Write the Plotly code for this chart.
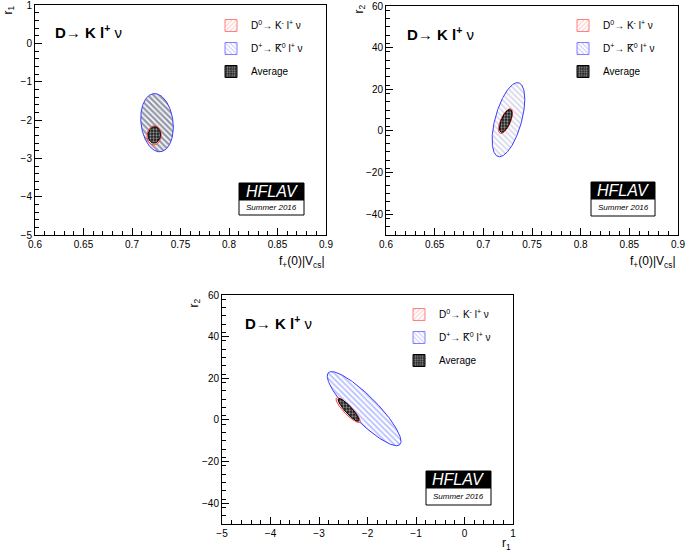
import numpy as np
import plotly.graph_objects as go

W, H = 685, 553

# ---- data ----
series_names = ["D<sup>0</sup>→ K<sup>-</sup> l<sup>+</sup> ν",
                "D<sup>+</sup>→ K\u0305<sup>0</sup> l<sup>+</sup> ν",
                "Average"]
f_center = [0.7228, 0.7258, 0.7230]
r1_center = [-2.40, -2.07, -2.39]
r2_center = [4.7, 5.4, 4.8]
f_half = [0.0073, 0.0168, 0.0064]
r1_half = [0.25, 0.76, 0.215]
r2_half = [6.0, 17.8, 5.5]
rho_f_r1 = [0.05, -0.15, 0.05]
rho_f_r2 = [0.65, 0.55, 0.65]
rho_r1_r2 = [-0.88, -0.88, -0.90]

f_ticks = [0.6, 0.65, 0.7, 0.75, 0.8, 0.85, 0.9]
r1_ticks = [-5, -4, -3, -2, -1, 0, 1]
r2_ticks = [-40, -20, 0, 20, 40, 60]


def X(px):
    return px / W


def Y(py):
    return 1 - py / H


def ellipse(cx, cy, a, b, rho, n=240):
    t = np.linspace(0, 2 * np.pi, n)
    x = cx + a * np.cos(t)
    y = cy + b * (rho * np.cos(t) + np.sqrt(1 - rho ** 2) * np.sin(t))
    return x, y


fig = go.Figure()

panels = [
    dict(xa="x", ya="y", cx=f_center, cy=r1_center, hx=f_half, hy=r1_half, rho=rho_f_r1,
         legend="legend", blue="#2c3250", sol=0.62),
    dict(xa="x2", ya="y2", cx=f_center, cy=r2_center, hx=f_half, hy=r2_half, rho=rho_f_r2,
         legend="legend2", blue="#b0b0d8", sol=0.45),
    dict(xa="x3", ya="y3", cx=r1_center, cy=r2_center, hx=r1_half, hy=r2_half, rho=rho_r1_r2,
         legend="legend3", blue="#6f7fff", sol=0.45),
]

line_cols = ["#ff4040", "#3a3aff", "black"]
leg_pats = [dict(shape="/", fgcolor="#ff8a8a", bgcolor="white", size=4, solidity=0.3),
            dict(shape="\\", fgcolor="#8a8aff", bgcolor="white", size=4, solidity=0.3),
            dict(shape=".", fgcolor="white", bgcolor="#1a1a1a", size=3, solidity=0.45)]
leg_lines = ["#ff8080", "#8080ff", "black"]

for p in panels:
    pats = {
        0: dict(shape="/", fgcolor="#ff8080", bgcolor="white", size=4, solidity=0.3),
        1: dict(shape="\\", fgcolor=p["blue"], bgcolor="white", size=4, solidity=p["sol"]),
        2: dict(shape=".", fgcolor="white", bgcolor="#1a1a1a", size=3, solidity=0.45),
    }
    for i in [1, 0, 2]:
        x, y = ellipse(p["cx"][i], p["cy"][i], p["hx"][i], p["hy"][i], p["rho"][i])
        fig.add_trace(go.Scatter(
            x=x, y=y, mode="lines", fill="toself",
            fillcolor="white", fillpattern=pats[i],
            line=dict(color=line_cols[i], width=1),
            name=series_names[i], xaxis=p["xa"], yaxis=p["ya"],
            showlegend=False, hoverinfo="skip"))
    # legend entries
    for i in [0, 1, 2]:
        fig.add_trace(go.Bar(
            x=[None], y=[None], name=series_names[i], xaxis=p["xa"], yaxis=p["ya"],
            marker=dict(color="white", pattern=leg_pats[i], line=dict(color=leg_lines[i], width=1)),
            legend=p["legend"], legendgroup=p["legend"] + str(i), showlegend=True,
            hoverinfo="skip"))

font = "Liberation Sans, Arial, sans-serif"


def axis(domain, rng, minor, ticks, anchor):
    return dict(domain=domain, range=rng, tickvals=ticks, ticks="inside", ticklen=7,
                tickcolor="black", showline=True, mirror=True, linecolor="black", linewidth=1,
                showgrid=False, zeroline=False, anchor=anchor, automargin=False,
                ticklabeloverflow="allow",
                tickfont=dict(family=font, size=10, color="black"),
                minor=dict(ticks="inside", ticklen=4, dtick=minor, tick0=rng[0], tickcolor="black",
                           showgrid=False))


xd1 = [X(35), X(326)]
xd2 = [X(386), X(678)]
xd3 = [X(222), X(513)]
yd1 = [Y(235), Y(5)]
yd2 = [Y(235), Y(6)]
yd3 = [Y(524), Y(295)]

lay = dict(
    width=W, height=H, margin=dict(l=0, r=0, t=0, b=0),
    paper_bgcolor="white", plot_bgcolor="white",
    xaxis=axis(xd1, [0.6, 0.9], 0.01, f_ticks, "y"),
    yaxis=axis(yd1, [-5, 1], 0.2, r1_ticks, "x"),
    xaxis2=axis(xd2, [0.6, 0.9], 0.01, f_ticks, "y2"),
    yaxis2=axis(yd2, [-50, 60], 4, r2_ticks, "x2"),
    xaxis3=axis(xd3, [-5, 1], 0.2, r1_ticks, "y3"),
    yaxis3=axis(yd3, [-50, 60], 4, r2_ticks, "x3"),
    showlegend=True,
)
for key, (lx, ly) in zip(["legend", "legend2", "legend3"], [(211, 11), (563, 11), (399, 300)]):
    lay[key] = dict(x=X(lx), y=Y(ly), xanchor="left", yanchor="top", bgcolor="rgba(0,0,0,0)",
                    font=dict(family=font, size=10, color="black"), tracegroupgap=4,
                    itemwidth=30, traceorder="grouped")
fig.update_layout(**lay)

ann = []
titles = [(53, 32), (405, 33), (243, 322)]
for tx, ty in titles:
    ann.append(dict(x=X(tx), y=Y(ty), xref="paper", yref="paper", xanchor="left", yanchor="middle",
                    showarrow=False, text="<b>D→ K l<sup>+</sup></b> ν",
                    font=dict(family=font, size=15, color="black")))
xt = [(327, 262, "f<sub>+</sub>(0)|V<sub>cs</sub>|"), (678, 262, "f<sub>+</sub>(0)|V<sub>cs</sub>|"),
      (513, 544, "r<sub>1</sub>")]
for tx, ty, t in xt:
    ann.append(dict(x=X(tx), y=Y(ty), xref="paper", yref="paper", xanchor="right", yanchor="middle",
                    showarrow=False, text=t, font=dict(family=font, size=12, color="black")))
yt = [(8, 3, "r<sub>1</sub>"), (359, 3, "r<sub>2</sub>"), (194, 297, "r<sub>2</sub>")]
for tx, ty, t in yt:
    ann.append(dict(x=X(tx), y=Y(ty), xref="paper", yref="paper", xanchor="center", yanchor="top",
                    textangle=-90, showarrow=False, text=t,
                    font=dict(family=font, size=12, color="black")))

shapes = []
logos = [(239, 304, 183, 200, 215), (591, 655, 182, 199, 216), (426, 491, 471, 488, 505)]
for x0, x1, y0, ym, y1 in logos:
    shapes.append(dict(type="rect", xref="paper", yref="paper", x0=X(x0), x1=X(x1), y0=Y(ym), y1=Y(y0),
                       fillcolor="black", line=dict(color="black", width=1)))
    shapes.append(dict(type="rect", xref="paper", yref="paper", x0=X(x0), x1=X(x1), y0=Y(y1), y1=Y(ym),
                       fillcolor="white", line=dict(color="black", width=1)))
    ann.append(dict(x=X((x0 + x1) / 2), y=Y((y0 + ym) / 2), xref="paper", yref="paper",
                    xanchor="center", yanchor="middle",
                    showarrow=False, text="<i>HFLAV</i>", font=dict(family=font, size=16, color="white")))
    ann.append(dict(x=X((x0 + x1) / 2), y=Y((ym + y1) / 2), xref="paper", yref="paper",
                    xanchor="center", yanchor="middle",
                    showarrow=False, text="<i>Summer 2016</i>", font=dict(family=font, size=8, color="black")))

fig.update_layout(annotations=ann, shapes=shapes)
# remove the default 8px page margin so the 685x553 figure fills the window exactly
fig.write_html("out.html", config={"displayModeBar": False},
               post_script="document.body.style.margin='0';")
